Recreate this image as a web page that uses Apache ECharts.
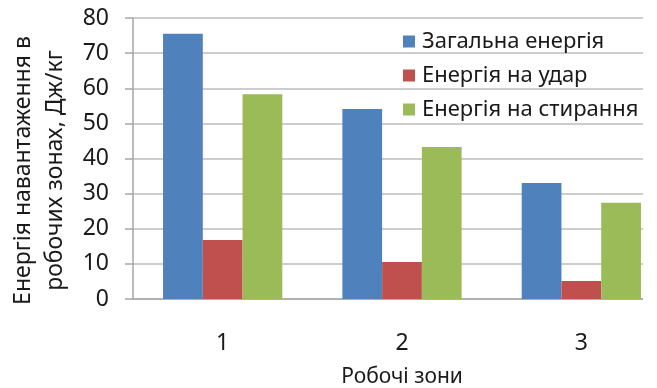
<!DOCTYPE html>
<html>
<head>
<meta charset="utf-8">
<script src="https://cdn.jsdelivr.net/npm/echarts@6/dist/echarts.min.js"></script>
<style>
  html, body { margin: 0; padding: 0; background: #fff; }
  #frame { width: 643px; height: 388px; overflow: hidden; }
  #chart { width: 671px; height: 388px; }
</style>
</head>
<body>
<div id="frame"><div id="chart"></div></div>
<script>
// Working zones and the load energy in each one, J/kg
const zones = ['1', '2', '3'];
const totalEnergy = [75.5, 54.1, 33.0];
const impactEnergy = [16.8, 10.5, 5.1];
const abrasionEnergy = [58.3, 43.3, 27.4];
const seriesNames = ['Загальна енергія', 'Енергія на удар', 'Енергія на стирання'];
const yTicks = { min: 0, max: 80, interval: 10 };

const font = 'Noto Sans';
const ink = '#1a1a1a';
const chart = echarts.init(document.getElementById('chart'), null, { renderer: 'canvas' });

chart.setOption({
  animation: false,
  color: ['#4F81BD', '#C0504D', '#9BBB59'],
  textStyle: { fontFamily: font, color: ink },
  grid: { left: 133, right: 0, top: 18, bottom: 89, containLabel: false, outerBoundsMode: 'none' },
  legend: {
    orient: 'vertical',
    left: 398,
    top: 25,
    itemWidth: 12,
    itemHeight: 12,
    itemGap: 11,
    icon: 'rect',
    textStyle: { fontFamily: font, fontSize: 22, color: ink, lineHeight: 23, padding: [0, 0, 0, 2] },
    data: seriesNames
  },
  xAxis: {
    type: 'category',
    data: zones,
    name: 'Робочі зони',
    nameLocation: 'middle',
    nameGap: 68,
    nameTextStyle: { fontFamily: font, fontSize: 21, color: ink },
    axisLine: { show: true, lineStyle: { color: '#a6a6a6', width: 1.5 } },
    axisTick: { show: false },
    axisLabel: { fontFamily: font, fontSize: 23, color: ink, margin: 33 },
    splitLine: { show: false }
  },
  yAxis: {
    type: 'value',
    min: yTicks.min,
    max: yTicks.max,
    interval: yTicks.interval,
    name: 'Енергія навантаження в\nробочих зонах, Дж/кг',
    nameLocation: 'middle',
    nameRotate: 90,
    nameGap: 60,
    nameTextStyle: { fontFamily: font, fontSize: 23, color: ink, lineHeight: 32, padding: [0, 24, 0, 0] },
    axisLine: { show: true, lineStyle: { color: '#a6a6a6', width: 1.5 } },
    axisTick: { show: true, length: 8, lineStyle: { color: '#a6a6a6', width: 1.5 } },
    axisLabel: { fontFamily: font, fontSize: 23, color: ink, margin: 24 },
    splitLine: { show: true, lineStyle: { color: '#bcbcbc', width: 1.5 } }
  },
  series: [
    { name: seriesNames[0], type: 'bar', data: totalEnergy, barGap: '0%', barCategoryGap: '33.5%' },
    { name: seriesNames[1], type: 'bar', data: impactEnergy, barGap: '0%', barCategoryGap: '33.5%' },
    { name: seriesNames[2], type: 'bar', data: abrasionEnergy, barGap: '0%', barCategoryGap: '33.5%' }
  ]
});
</script>
</body>
</html>
